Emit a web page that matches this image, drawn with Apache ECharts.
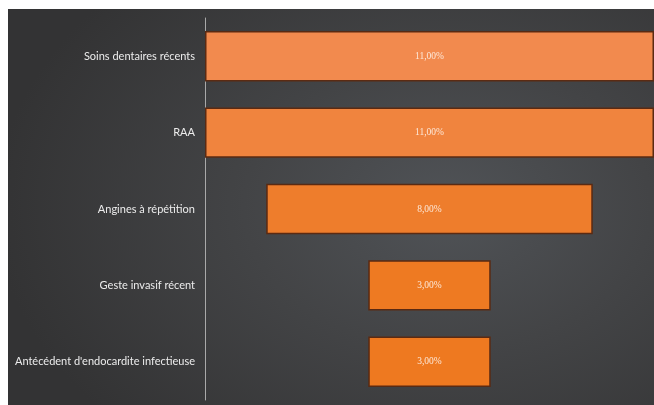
<!DOCTYPE html>
<html>
<head>
<meta charset="utf-8">
<script src="https://cdn.jsdelivr.net/npm/echarts@6/dist/echarts.min.js"></script>
<style>
  html, body { margin: 0; padding: 0; background: #ffffff; width: 654px; height: 405px; overflow: hidden; }
  #chart {
    position: absolute; left: 8px; top: 9px; width: 646px; height: 396px;
    background: radial-gradient(ellipse 70% 80% at 68% 50%, #505357 0%, #434446 45%, #333334 100%);
  }
</style>
</head>
<body>
<div id="chart"></div>
<script>
// Facteurs de risque (pourcentage des cas)
const categories = [
  'Soins dentaires récents',
  'RAA',
  'Angines à répétition',
  'Geste invasif récent',
  "Antécédent d'endocardite infectieuse"
];
const values = [11, 11, 8, 3, 3];
const barColors = ['#F28A4E', '#F0843E', '#EE7D2C', '#EE7A22', '#EE7920'];

const maxValue = Math.max(...values);
// transparent spacer so that every bar is centred on the same axis
const spacer = values.map(v => (maxValue - v) / 2);

const chart = echarts.init(document.getElementById('chart'), null, { renderer: 'canvas' });
chart.setOption({
  backgroundColor: 'transparent',
  animation: false,
  grid: { left: 197, top: 9, bottom: 5, right: -8, containLabel: false },
  xAxis: {
    type: 'value', min: 0, max: maxValue,
    show: false
  },
  yAxis: {
    type: 'category', data: categories, inverse: true,
    axisLine: { show: true, lineStyle: { color: '#a9a9a9', width: 1 } },
    axisTick: { show: false },
    axisLabel: { color: '#ececec', fontFamily: 'Lato', fontSize: 11, margin: 10 }
  },
  series: [
    {
      type: 'bar', stack: 'f', data: spacer, barWidth: '66%',
      itemStyle: { color: 'transparent' }, silent: true
    },
    {
      type: 'bar', stack: 'f', barWidth: '66%',
      data: values.map((v, i) => ({ value: v, itemStyle: { color: barColors[i] } })),
      itemStyle: { borderColor: '#5a2a12', borderWidth: 1.5 },
      label: {
        show: true, position: 'inside', color: '#fde9da',
        fontFamily: 'Liberation Serif', fontSize: 9.5,
        formatter: p => p.value.toFixed(2).replace('.', ',') + '%'
      }
    }
  ]
});
</script>
</body>
</html>
